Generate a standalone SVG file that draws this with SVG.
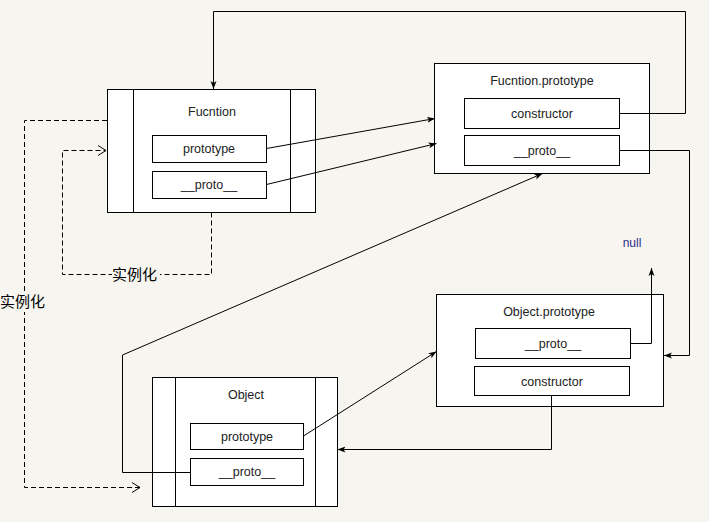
<svg xmlns="http://www.w3.org/2000/svg" width="709" height="522" viewBox="0 0 709 522">
<defs>
<style>
.bg{fill:#f7f5f0}
.box{fill:#fff;stroke:#000;stroke-width:1}
.ln{fill:none;stroke:#000;stroke-width:1}
.dash{fill:none;stroke:#000;stroke-width:1;stroke-dasharray:5,3}
.t{font-family:"Liberation Sans",Arial,sans-serif;font-size:12.5px;fill:#222;text-anchor:middle}
.cn{font-family:"Noto Sans CJK SC",sans-serif;font-size:15px;fill:#000}
</style>
<marker id="ah" viewBox="0 0 8 8" refX="8" refY="4" markerWidth="8" markerHeight="8" markerUnits="userSpaceOnUse" orient="auto">
<path d="M0,1 L8,4 L0,7 L2,4 Z" fill="#000"/>
</marker>
<marker id="oh" viewBox="0 0 10 12" refX="9" refY="6" markerWidth="10" markerHeight="12" markerUnits="userSpaceOnUse" orient="auto">
<path d="M1,1 L9,6 L1,11" fill="none" stroke="#000" stroke-width="1"/>
</marker>
</defs>
<rect class="bg" x="0" y="0" width="709" height="522"/>

<g id="Function">
<rect class="box" x="107.5" y="89.5" width="208" height="123"/>
<line class="ln" x1="133.5" y1="89.5" x2="133.5" y2="212.5"/>
<line class="ln" x1="290.5" y1="89.5" x2="290.5" y2="212.5"/>
<text class="t" x="212" y="116">Fucntion</text>
<rect class="box" x="152.5" y="135.5" width="114" height="27"/>
<text class="t" x="209" y="153">prototype</text>
<rect class="box" x="152.5" y="171.5" width="114" height="27"/>
<text class="t" x="209" y="189">__proto__</text>
</g>

<g id="FunctionPrototype">
<rect class="box" x="434.5" y="63.5" width="215" height="110"/>
<text class="t" x="542" y="85">Fucntion.prototype</text>
<rect class="box" x="464.5" y="98.5" width="155" height="30"/>
<text class="t" x="542" y="118">constructor</text>
<rect class="box" x="464.5" y="135.5" width="155" height="30"/>
<text class="t" x="542" y="155">__proto__</text>
</g>

<g id="null">
<text x="632" y="247" style="font-family:'Liberation Sans',Arial,sans-serif;font-size:12px;fill:#2a2a8a;text-anchor:middle">null</text>
</g>

<g id="ObjectPrototype">
<rect class="box" x="436.5" y="294.5" width="227" height="112"/>
<text class="t" x="549" y="316">Object.prototype</text>
<rect class="box" x="475.5" y="328.5" width="155" height="30"/>
<text class="t" x="553" y="348">__proto__</text>
<rect class="box" x="474.5" y="366.5" width="155" height="29"/>
<text class="t" x="552" y="386">constructor</text>
</g>

<g id="Object">
<rect class="box" x="152.5" y="377.5" width="185" height="129"/>
<line class="ln" x1="175.5" y1="377.5" x2="175.5" y2="506.5"/>
<line class="ln" x1="315.5" y1="377.5" x2="315.5" y2="506.5"/>
<text class="t" x="246" y="399">Object</text>
<rect class="box" x="190.5" y="423.5" width="113" height="26"/>
<text class="t" x="247" y="441">prototype</text>
<rect class="box" x="190.5" y="458.5" width="113" height="27"/>
<text class="t" x="247" y="476">__proto__</text>
</g>

<g id="connectors">
<path class="ln" d="M619.5,113.5 H685.5 V11.5 H213.5 V89" marker-end="url(#ah)"/>
<path class="ln" d="M266.5,148.5 L435,118.5" marker-end="url(#ah)"/>
<path class="ln" d="M266.5,184.5 L436.5,143.5" marker-end="url(#ah)"/>
<path class="ln" d="M619.5,150.5 H689.5 V355.5 H664" marker-end="url(#ah)"/>
<path class="ln" d="M630.5,343.5 H651.5 V268" marker-end="url(#ah)"/>
<path class="ln" d="M551.5,396 V449.5 H337.5" marker-end="url(#ah)"/>
<path class="ln" d="M303.5,436 L436.5,351.5" marker-end="url(#ah)"/>
<path class="ln" d="M190.5,472.5 H122.5 V355 L542.5,173.5" marker-end="url(#ah)"/>
<path class="dash" d="M211.5,212.5 V274.5 H62.5 V150.5 H106" marker-end="url(#oh)"/>
<path class="dash" d="M107,120.5 H24.5 V487.5 H140" marker-end="url(#oh)"/>
</g>

<g id="label-inst1">
<rect class="bg" x="112" y="264" width="48" height="21"/>
<text class="cn" x="112" y="280">实例化</text>
</g>
<g id="label-inst2">
<rect class="bg" x="0" y="291" width="48" height="21"/>
<text class="cn" x="0" y="307">实例化</text>
</g>
</svg>
